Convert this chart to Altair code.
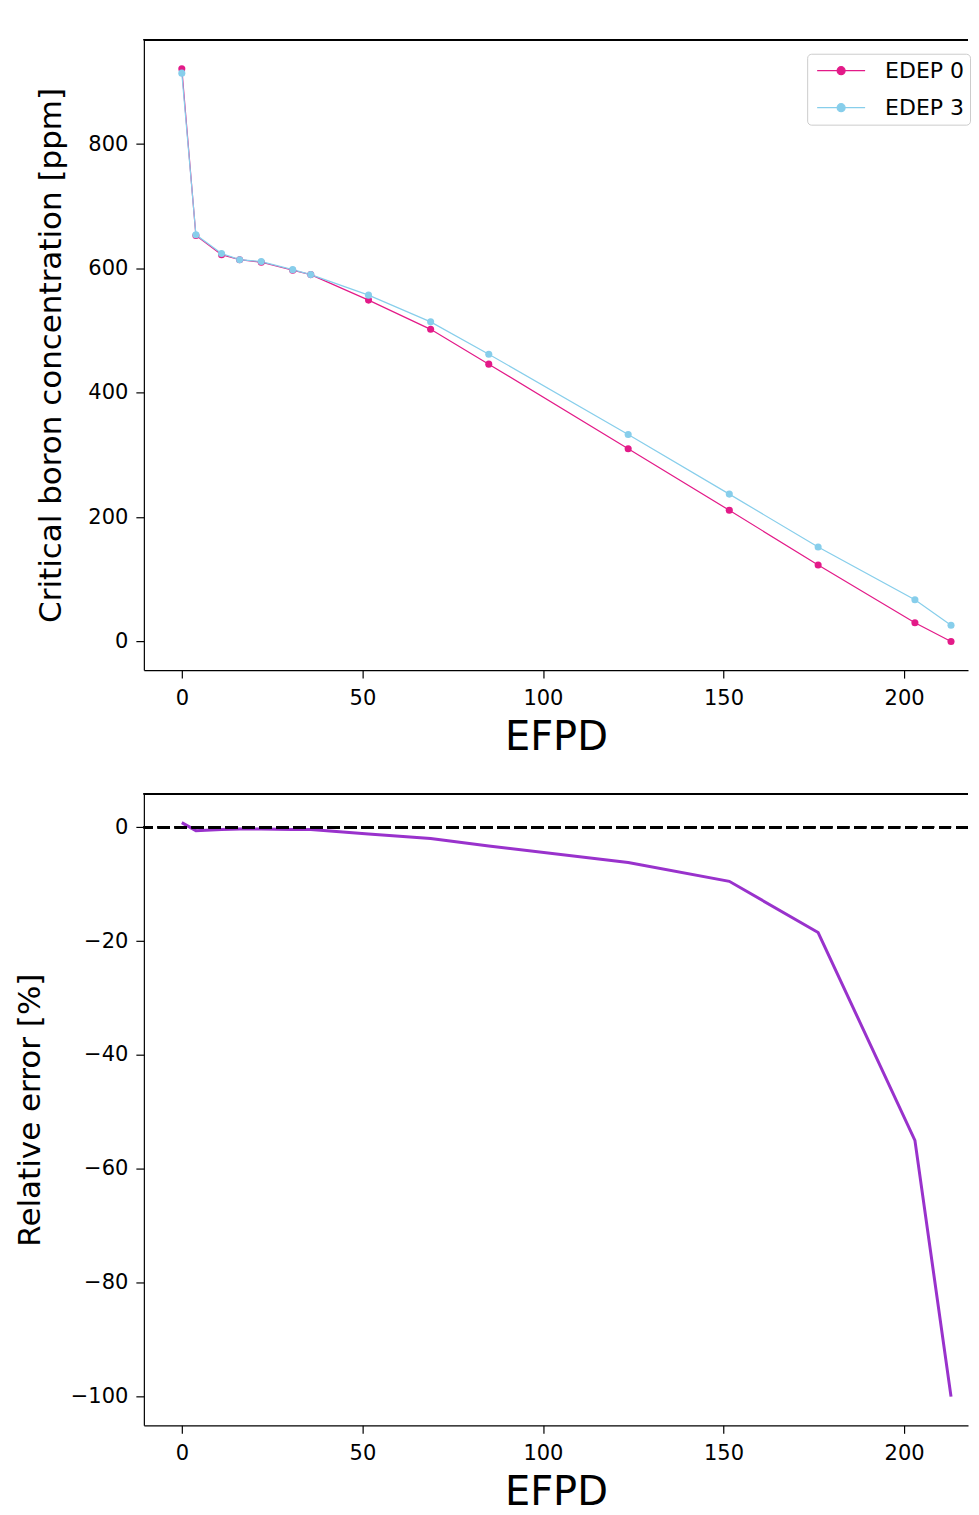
import altair as alt
import pandas as pd

# ---- data ----
efpd = [0, 3.9, 11, 16, 22, 30.7, 35.7, 51.7, 68.9, 85, 123.6, 151.6, 176.2, 203, 213]
edep0 = [921, 653, 622, 614, 610, 597, 590, 549, 502, 446, 310, 211, 123, 30, 0]
edep3 = [914, 654, 624, 614, 611, 598, 590, 557, 514, 462, 333, 237, 152, 67, 26]
rel_err = [0.8, -0.6, -0.4, -0.3, -0.3, -0.4, -0.4, -1.2, -2.0, -3.3, -6.2, -9.5, -18.5, -55.0, -100.0]
series = ["EDEP 0", "EDEP 3"]
colors = ["#e31a88", "#87ceeb"]

top_df = pd.DataFrame(
    {"EFPD": efpd * 2,
     "ppm": edep0 + edep3,
     "Series": [series[0]] * len(efpd) + [series[1]] * len(efpd)}
)
bot_df = pd.DataFrame({"EFPD": efpd, "err": rel_err})

FONT = "DejaVu Sans"
W = 825

x_scale = alt.Scale(domain=[-10.51, 217.7], nice=False, zero=False)
x_axis = alt.Axis(values=[0, 50, 100, 150, 200], title="EFPD", titleFontSize=40,
                  titlePadding=9, labelPadding=9)

color = alt.Color(
    "Series:N",
    scale=alt.Scale(domain=series, range=colors),
    legend=alt.Legend(
        title=None, orient="none", legendX=664, legendY=14,
        symbolType="M-0.7,0L4.1,0M2.1,0A0.4,0.4,0,1,1,1.3,0A0.4,0.4,0,1,1,2.1,0Z",
        symbolSize=400, symbolStrokeWidth=1.2, labelOffset=50,
        labelFontSize=22, labelFont=FONT, labelColor="black",
        padding=6, rowPadding=15, fillColor="white", strokeColor="#cccccc",
        cornerRadius=4,
    ),
)


def frame_top():
    return alt.Chart(bot_df).mark_rule(color="black", strokeWidth=1.2).encode(
        x=alt.value(0), x2=alt.value(W), y=alt.value(0)
    )


base_top = alt.Chart(top_df).encode(
    x=alt.X("EFPD:Q", scale=x_scale, axis=x_axis),
    y=alt.Y("ppm:Q", scale=alt.Scale(domain=[-46, 967.7], nice=False, zero=False),
            axis=alt.Axis(values=[0, 200, 400, 600, 800],
                          title="Critical boron concentration [ppm]",
                          titlePadding=20, labelPadding=8)),
    color=color,
    order=alt.Order("EFPD:Q"),
)
top = alt.layer(
    base_top.mark_line(strokeWidth=1.2),
    base_top.mark_point(filled=True, size=50, opacity=1),
    frame_top(),
).properties(width=W, height=631)

bline = alt.Chart(bot_df).mark_line(color="darkorchid", strokeWidth=3).encode(
    x=alt.X("EFPD:Q", scale=x_scale, axis=x_axis),
    y=alt.Y("err:Q", scale=alt.Scale(domain=[-105.04, 5.84], nice=False, zero=False),
            axis=alt.Axis(values=[0, -20, -40, -60, -80, -100],
                          title="Relative error [%]",
                          titlePadding=24, labelPadding=8)),
)
zero = alt.Chart(bot_df).mark_rule(color="black", strokeWidth=2.5, strokeDash=[12, 5]).encode(
    y=alt.datum(0)
)
bottom = alt.layer(bline, zero, frame_top()).properties(width=W, height=632)

chart = (
    alt.vconcat(top, bottom, spacing=36)
    .properties(padding={"left": 6, "top": 30, "right": 0, "bottom": 0})
    .configure(font=FONT)
    .configure_view(strokeWidth=0)
    .configure_axis(
        domain=True, domainColor="black", domainWidth=1.2,
        grid=False, tickColor="black", tickSize=8, tickWidth=1.2,
        labelFontSize=21, labelFont=FONT, labelColor="black",
        titleFont=FONT, titleFontWeight="normal", titleColor="black",
        titleFontSize=31,
    )
)

chart.save("out.html", embed_options={"renderer": "svg", "actions": False})
